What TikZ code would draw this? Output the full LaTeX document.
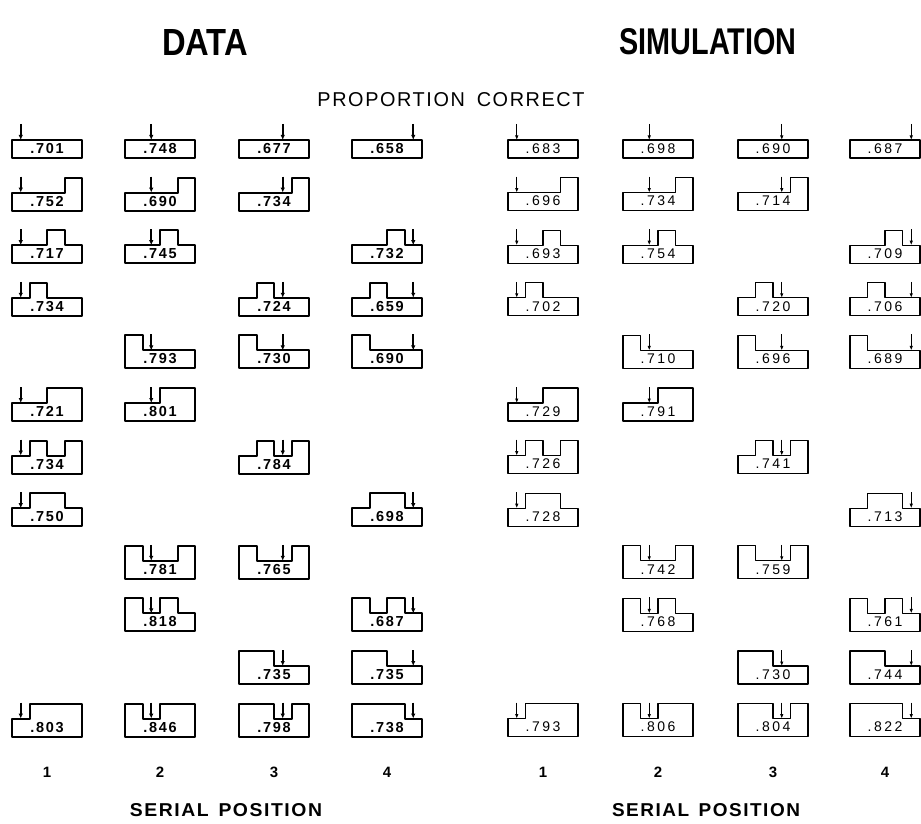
\documentclass[tikz,border=0pt]{standalone}
\usepackage{fontspec}
\setmainfont{Liberation Sans}
\newfontfamily\lsfont[LetterSpace=8]{Liberation Sans}
\newfontfamily\datafont[LetterSpace=12]{Liberation Sans}
\newfontfamily\simfont[LetterSpace=18]{Liberation Sans}
\usetikzlibrary{arrows.meta}
\tikzset{
  dline/.style={line width=2.0pt, line join=round},
  sline/.style={line width=1.2pt, line join=round},
  darrow/.style={line width=1.6pt, -{Latex[length=5pt,width=4.5pt]}},
  sarrow/.style={line width=1.1pt, -{Latex[length=4.5pt,width=3.5pt]}},
  dnum/.style={inner sep=0pt, font=\datafont\fontsize{14.5}{15}\selectfont\bfseries},
  snum/.style={inner sep=0pt, font=\simfont\fontsize{14}{15}\selectfont},
  lbl/.style={inner sep=0pt},
  colnum/.style={inner sep=0pt, font=\fontsize{15}{16}\selectfont\bfseries},
}
% #1 x-left, #2 row, #3-#6 levels, #7 target, #8 number, #9 d/s
\newcommand\gly[9]{%
  \pgfmathsetmacro\yb{158+52.6*(#2-1)}%
  \pgfmathsetmacro\ya{\yb-18-15*#3}%
  \pgfmathsetmacro\yB{\yb-18-15*#4}%
  \pgfmathsetmacro\yc{\yb-18-15*#5}%
  \pgfmathsetmacro\yd{\yb-18-15*#6}%
  \pgfmathsetmacro\xa{#1+17.5*(#7-0.5)}%
  \draw[#9line] (#1,\yb) -- (#1,\ya) -- ({#1+17.5},\ya) -- ({#1+17.5},\yB)
     -- ({#1+35},\yB) -- ({#1+35},\yc) -- ({#1+52.5},\yc) -- ({#1+52.5},\yd)
     -- ({#1+70},\yd) -- ({#1+70},\yb) -- cycle;
  \draw[#9arrow] (\xa,{\yb-34}) -- (\xa,{\yb-18});
  \node[#9num] (#9-#2-#7) at ({#1+35},{\yb-9.5}) {#8};
}
\begin{document}
\begin{tikzpicture}[x=1pt,y=-1pt]
\useasboundingbox (0,0) rectangle (921,824);
% titles
\node[lbl] (data) at (205,42) {\resizebox{86pt}{26pt}{\bfseries DATA}};
\node[lbl] (simulation) at (708,42) {\resizebox{177pt}{26pt}{\bfseries SIMULATION}};
\node[lbl] (pc) at (451,100) {\resizebox{267pt}{14pt}{\lsfont PROPORTION\hspace{0.6em}CORRECT}};
% ---------------- DATA ----------------
\gly{12}{1}{0}{0}{0}{0}{1}{.701}{d}
\gly{125}{1}{0}{0}{0}{0}{2}{.748}{d}
\gly{239}{1}{0}{0}{0}{0}{3}{.677}{d}
\gly{352}{1}{0}{0}{0}{0}{4}{.658}{d}
\gly{12}{2}{0}{0}{0}{1}{1}{.752}{d}
\gly{125}{2}{0}{0}{0}{1}{2}{.690}{d}
\gly{239}{2}{0}{0}{0}{1}{3}{.734}{d}
\gly{12}{3}{0}{0}{1}{0}{1}{.717}{d}
\gly{125}{3}{0}{0}{1}{0}{2}{.745}{d}
\gly{352}{3}{0}{0}{1}{0}{4}{.732}{d}
\gly{12}{4}{0}{1}{0}{0}{1}{.734}{d}
\gly{239}{4}{0}{1}{0}{0}{3}{.724}{d}
\gly{352}{4}{0}{1}{0}{0}{4}{.659}{d}
\gly{125}{5}{1}{0}{0}{0}{2}{.793}{d}
\gly{239}{5}{1}{0}{0}{0}{3}{.730}{d}
\gly{352}{5}{1}{0}{0}{0}{4}{.690}{d}
\gly{12}{6}{0}{0}{1}{1}{1}{.721}{d}
\gly{125}{6}{0}{0}{1}{1}{2}{.801}{d}
\gly{12}{7}{0}{1}{0}{1}{1}{.734}{d}
\gly{239}{7}{0}{1}{0}{1}{3}{.784}{d}
\gly{12}{8}{0}{1}{1}{0}{1}{.750}{d}
\gly{352}{8}{0}{1}{1}{0}{4}{.698}{d}
\gly{125}{9}{1}{0}{0}{1}{2}{.781}{d}
\gly{239}{9}{1}{0}{0}{1}{3}{.765}{d}
\gly{125}{10}{1}{0}{1}{0}{2}{.818}{d}
\gly{352}{10}{1}{0}{1}{0}{4}{.687}{d}
\gly{239}{11}{1}{1}{0}{0}{3}{.735}{d}
\gly{352}{11}{1}{1}{0}{0}{4}{.735}{d}
\gly{12}{12}{0}{1}{1}{1}{1}{.803}{d}
\gly{125}{12}{1}{0}{1}{1}{2}{.846}{d}
\gly{239}{12}{1}{1}{0}{1}{3}{.798}{d}
\gly{352}{12}{1}{1}{1}{0}{4}{.738}{d}
% ---------------- SIMULATION ----------------
\gly{508}{1}{0}{0}{0}{0}{1}{.683}{s}
\gly{623}{1}{0}{0}{0}{0}{2}{.698}{s}
\gly{738}{1}{0}{0}{0}{0}{3}{.690}{s}
\gly{850}{1}{0}{0}{0}{0}{4}{.687}{s}
\gly{508}{2}{0}{0}{0}{1}{1}{.696}{s}
\gly{623}{2}{0}{0}{0}{1}{2}{.734}{s}
\gly{738}{2}{0}{0}{0}{1}{3}{.714}{s}
\gly{508}{3}{0}{0}{1}{0}{1}{.693}{s}
\gly{623}{3}{0}{0}{1}{0}{2}{.754}{s}
\gly{850}{3}{0}{0}{1}{0}{4}{.709}{s}
\gly{508}{4}{0}{1}{0}{0}{1}{.702}{s}
\gly{738}{4}{0}{1}{0}{0}{3}{.720}{s}
\gly{850}{4}{0}{1}{0}{0}{4}{.706}{s}
\gly{623}{5}{1}{0}{0}{0}{2}{.710}{s}
\gly{738}{5}{1}{0}{0}{0}{3}{.696}{s}
\gly{850}{5}{1}{0}{0}{0}{4}{.689}{s}
\gly{508}{6}{0}{0}{1}{1}{1}{.729}{s}
\gly{623}{6}{0}{0}{1}{1}{2}{.791}{s}
\gly{508}{7}{0}{1}{0}{1}{1}{.726}{s}
\gly{738}{7}{0}{1}{0}{1}{3}{.741}{s}
\gly{508}{8}{0}{1}{1}{0}{1}{.728}{s}
\gly{850}{8}{0}{1}{1}{0}{4}{.713}{s}
\gly{623}{9}{1}{0}{0}{1}{2}{.742}{s}
\gly{738}{9}{1}{0}{0}{1}{3}{.759}{s}
\gly{623}{10}{1}{0}{1}{0}{2}{.768}{s}
\gly{850}{10}{1}{0}{1}{0}{4}{.761}{s}
\gly{738}{11}{1}{1}{0}{0}{3}{.730}{s}
\gly{850}{11}{1}{1}{0}{0}{4}{.744}{s}
\gly{508}{12}{0}{1}{1}{1}{1}{.793}{s}
\gly{623}{12}{1}{0}{1}{1}{2}{.806}{s}
\gly{738}{12}{1}{1}{0}{1}{3}{.804}{s}
\gly{850}{12}{1}{1}{1}{0}{4}{.822}{s}
% axis labels
\foreach \x/\n in {47/1,160/2,274/3,387/4} \node[colnum] (dc\n) at (\x,772) {\n};
\foreach \x/\n in {543/1,658/2,773/3,885/4} \node[colnum] (sc\n) at (\x,772) {\n};
\node[lbl] (dsp) at (226,810) {\resizebox{192pt}{13pt}{\lsfont\bfseries SERIAL\hspace{0.5em}POSITION}};
\node[lbl] (ssp) at (706,810) {\resizebox{188pt}{13pt}{\lsfont\bfseries SERIAL\hspace{0.5em}POSITION}};
\end{tikzpicture}
\end{document}
